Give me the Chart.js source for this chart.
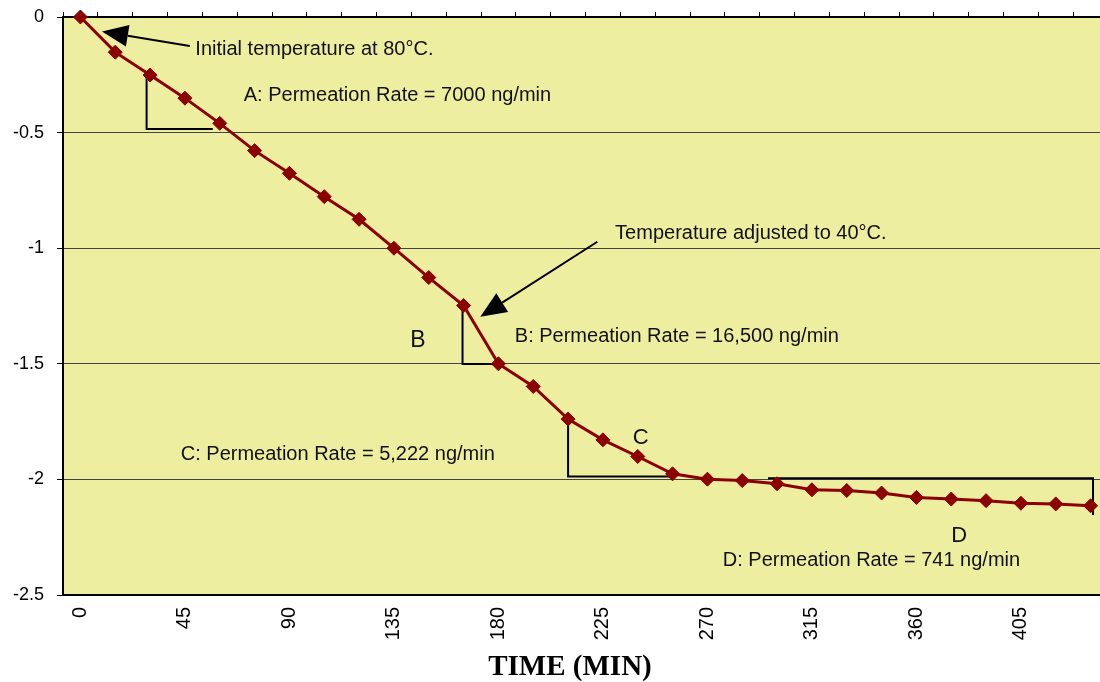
<!DOCTYPE html>
<html>
<head>
<meta charset="utf-8">
<script src="https://cdn.jsdelivr.net/npm/chart.js@4/dist/chart.umd.min.js"></script>
<style>
  html, body { margin: 0; padding: 0; overflow: hidden; background: #fff; }
  #wrap { position: relative; width: 1116px; height: 682px; }
</style>
</head>
<body>
<div id="wrap"><canvas id="chart"></canvas></div>
<script>
// time in minutes (one reading every 15 min)
const times = [0, 15, 30, 45, 60, 75, 90, 105, 120, 135, 150, 165, 180, 195, 210,
  225, 240, 255, 270, 285, 300, 315, 330, 345, 360, 375, 390, 405, 420, 435];
const weightChange = [0, -0.152, -0.251, -0.351, -0.46, -0.578, -0.676, -0.777, -0.875, -1.0,
  -1.127, -1.248, -1.5, -1.598, -1.739, -1.829, -1.901, -1.976, -1.999, -2.005,
  -2.019, -2.045, -2.048, -2.059, -2.078, -2.085, -2.092, -2.103, -2.106, -2.114];
const labeledTimes = [0, 45, 90, 135, 180, 225, 270, 315, 360, 405];

const SANS = "'Liberation Sans', Arial, sans-serif";
const LINE_RED = '#8B0000';

// annotations, positioned in data units (x = category index, y = value)
const notes = [
  { type: 'arrow', from: [3.14, -0.125], to: [0.62, -0.063] },
  { type: 'arrow', from: [14.84, -0.972], to: [11.48, -1.296] },
  { type: 'path', pts: [[1.9, -0.26], [1.9, -0.484], [3.8, -0.484]] },
  { type: 'path', pts: [[10.97, -1.253], [10.97, -1.501], [12.04, -1.501]] },
  { type: 'path', pts: [[14.0, -1.765], [14.0, -1.987], [17.04, -1.987]] },
  { type: 'path', pts: [[19.74, -1.995], [29.07, -1.995], [29.07, -2.154]] },
  { type: 'text', at: [3.3, -0.164], size: 20, text: 'Initial temperature at 80°C.' },
  { type: 'text', at: [4.69, -0.363], size: 20, text: 'A: Permeation Rate = 7000 ng/min' },
  { type: 'text', at: [15.35, -0.962], size: 20, text: 'Temperature adjusted to 40°C.' },
  { type: 'text', at: [9.47, -1.426], size: 23, text: 'B' },
  { type: 'text', at: [12.47, -1.404], size: 20, text: 'B: Permeation Rate = 16,500 ng/min' },
  { type: 'text', at: [15.86, -1.847], size: 22, text: 'C' },
  { type: 'text', at: [2.88, -1.916], size: 20, text: 'C: Permeation Rate = 5,222 ng/min' },
  { type: 'text', at: [25.0, -2.271], size: 22, text: 'D' },
  { type: 'text', at: [18.44, -2.375], size: 20, text: 'D: Permeation Rate = 741 ng/min' }
];

const plotBackground = {
  id: 'plotBackground',
  beforeDraw(chart) {
    const { ctx, chartArea: a } = chart;
    ctx.save();
    ctx.fillStyle = '#EEEEA0';
    ctx.fillRect(a.left, a.top, a.right - a.left, a.bottom - a.top);
    ctx.restore();
  }
};

const notesPlugin = {
  id: 'notes',
  beforeDatasetsDraw(chart) {
    const { ctx } = chart;
    const xs = chart.scales.x, ys = chart.scales.y;
    const px = p => [xs.getPixelForValue(p[0]), ys.getPixelForValue(p[1])];
    ctx.save();
    ctx.strokeStyle = '#000';
    ctx.fillStyle = '#000';
    ctx.lineWidth = 2;
    notes.forEach(n => {
      if (n.type === 'path') {
        ctx.beginPath();
        n.pts.forEach((p, i) => {
          const [x, y] = px(p);
          i ? ctx.lineTo(x, y) : ctx.moveTo(x, y);
        });
        ctx.stroke();
      } else if (n.type === 'arrow') {
        const [x1, y1] = px(n.from), [x2, y2] = px(n.to);
        const ang = Math.atan2(y2 - y1, x2 - x1);
        const len = 26, half = 11;
        const bx = x2 - len * Math.cos(ang), by = y2 - len * Math.sin(ang);
        ctx.beginPath();
        ctx.moveTo(x1, y1);
        ctx.lineTo(bx, by);
        ctx.stroke();
        ctx.beginPath();
        ctx.moveTo(x2, y2);
        ctx.lineTo(bx + half * Math.sin(ang), by - half * Math.cos(ang));
        ctx.lineTo(bx - half * Math.sin(ang), by + half * Math.cos(ang));
        ctx.closePath();
        ctx.fill();
      } else {
        const [x, y] = px(n.at);
        ctx.font = n.size + 'px ' + SANS;
        ctx.textAlign = 'left';
        ctx.textBaseline = 'alphabetic';
        ctx.fillStyle = '#111';
        ctx.fillText(n.text, x, y);
      }
    });
    ctx.restore();
  },
  afterDraw(chart) {
    // axis title, centred under the plot as in the source sheet
    const { ctx } = chart;
    ctx.save();
    ctx.font = "bold 29px 'Liberation Serif', 'Times New Roman', serif";
    ctx.fillStyle = '#000';
    ctx.textAlign = 'center';
    ctx.textBaseline = 'alphabetic';
    ctx.fillText('TIME (MIN)', 570, 675);
    ctx.restore();
  }
};

// keep the plot area where the sheet had it: no extra room for end labels
function noPadding(s) {
  s.paddingTop = 0;
  s.paddingBottom = 0;
  s.paddingLeft = 0;
  s.paddingRight = 0;
}

new Chart(document.getElementById('chart'), {
  type: 'line',
  data: {
    labels: times,
    datasets: [{
      data: weightChange,
      borderColor: LINE_RED,
      backgroundColor: LINE_RED,
      borderWidth: 3,
      pointStyle: 'rectRot',
      pointRadius: 7,
      pointBorderWidth: 1,
      pointBackgroundColor: LINE_RED,
      pointBorderColor: LINE_RED,
      tension: 0,
      clip: false
    }]
  },
  options: {
    responsive: true,
    maintainAspectRatio: false,
    animation: false,
    layout: { padding: 0 },
    plugins: {
      legend: { display: false },
      tooltip: { enabled: false }
    },
    scales: {
      x: {
        type: 'category',
        position: 'bottom',
        offset: true,
        grid: { display: false, drawTicks: false },
        border: { display: true, color: '#000', width: 2 },
        ticks: {
          autoSkip: false,
          minRotation: 90,
          maxRotation: 90,
          padding: 12,
          color: '#000',
          font: { family: SANS, size: 20 },
          callback: function (value) {
            const t = times[value];
            return labeledTimes.includes(t) ? String(t) : '';
          }
        },
        afterFit: s => { s.height = 87; noPadding(s); }
      },
      xTop: {
        type: 'category',
        position: 'top',
        offset: true,
        grid: { offset: true, drawOnChartArea: false, tickLength: 5, color: '#000', lineWidth: 1 },
        border: { display: true, color: '#000', width: 2 },
        ticks: { display: false },
        afterFit: s => { s.height = 17; noPadding(s); }
      },
      y: {
        min: -2.5,
        max: 0,
        grid: { color: '#444', lineWidth: 1, tickLength: 6, tickColor: '#000' },
        border: { display: true, color: '#000', width: 2 },
        ticks: {
          stepSize: 0.5,
          padding: 13,
          color: '#000',
          font: { family: SANS, size: 18 },
          callback: v => String(v)
        },
        afterFit: s => { s.width = 63; noPadding(s); }
      }
    }
  },
  plugins: [plotBackground, notesPlugin]
});
</script>
</body>
</html>
